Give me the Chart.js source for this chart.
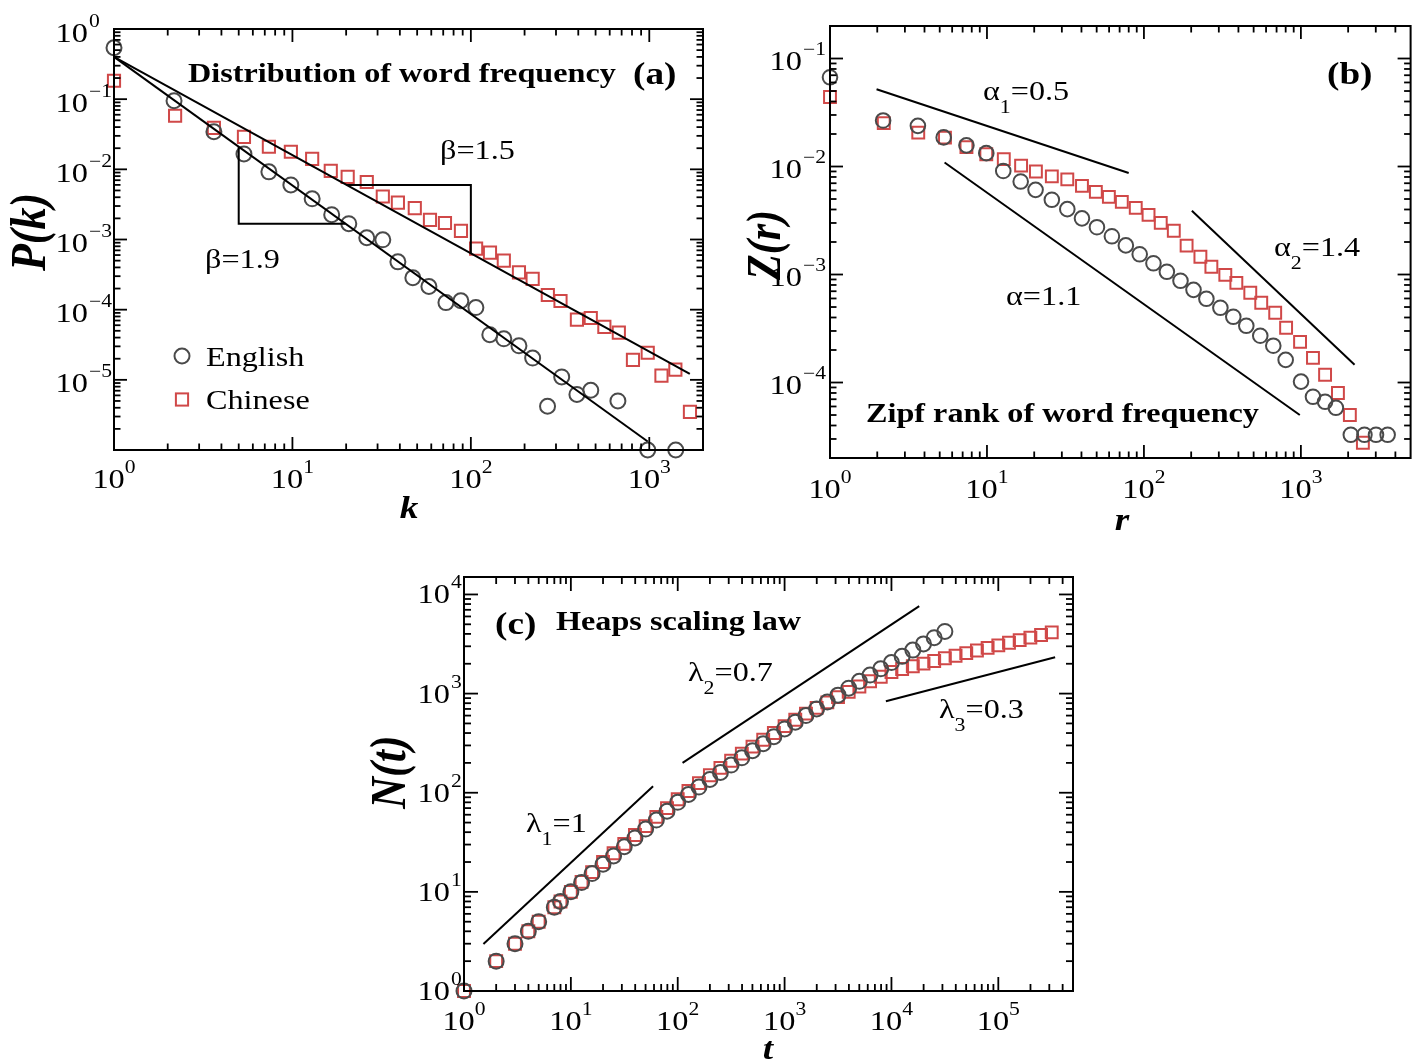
<!DOCTYPE html>
<html><head><meta charset="utf-8">
<script src="https://cdn.jsdelivr.net/npm/chart.js@4.4.1/dist/chart.umd.min.js"></script>
<style>
html,body{margin:0;padding:0;background:#fff;width:1421px;height:1061px;overflow:hidden;}
canvas{position:absolute;left:0;top:0;}
</style></head><body>
<canvas id="ca" width="1421" height="1061"></canvas>
<canvas id="cb" width="1421" height="1061"></canvas>
<canvas id="cc" width="1421" height="1061"></canvas>
<script>
// ---------- Panel (a): distribution of word frequency ----------
const aEnglishK = [1, 2.17, 3.63, 5.35, 7.38, 9.8, 12.9, 16.6, 20.7, 26.1, 32.1, 39, 47.3, 58.2, 72.5, 87.9, 106.7, 127.7, 153, 186, 222, 269, 323, 393, 470, 667, 980, 1407];
const aEnglishP = [0.54, 0.095, 0.0343, 0.0166, 0.0092, 0.006, 0.0038, 0.00226, 0.00168, 0.00106, 0.00099, 0.00048, 0.000285, 0.000214, 0.000126, 0.000134, 0.000107, 4.4e-5, 3.84e-5, 3.05e-5, 2.04e-5, 4.2e-6, 1.1e-5, 6.2e-6, 7.1e-6, 5.0e-6, 1.0e-6, 1.0e-6];
const aChineseK = [1, 2.2, 3.63, 5.35, 7.38, 9.8, 12.9, 16.4, 20.4, 26.1, 32.1, 39, 48.5, 59, 71.6, 88, 107, 128, 153, 186, 222, 270, 318, 393, 470, 560, 675, 810, 980, 1170, 1400, 1690];
const aChineseP = [0.183, 0.058, 0.039, 0.029, 0.021, 0.0178, 0.0141, 0.0095, 0.0078, 0.0066, 0.0041, 0.00335, 0.0028, 0.0019, 0.00172, 0.00133, 0.00074, 0.00065, 0.0005, 0.00034, 0.000275, 0.000162, 0.000133, 7.2e-5, 7.6e-5, 5.7e-5, 4.7e-5, 1.93e-5, 2.43e-5, 1.15e-5, 1.4e-5, 3.5e-6];
const aFit15K = [1, 1687];
const aFit15P = [0.40, 1.22e-5];
const aFit19K = [1, 980];
const aFit19P = [0.40, 1.32e-6];
const aTri15K = [20.1, 100, 100];
const aTri15P = [0.006, 0.006, 6.37e-4];
const aTri19K = [5, 5, 19.8];
const aTri19P = [0.021, 0.00168, 0.00168];
const aXTickExp = [0, 1, 2, 3];
const aYTickExp = [0, -1, -2, -3, -4, -5];

// ---------- Panel (b): Zipf rank ----------
const bEnglishR = [1, 2.18, 3.63, 5.3, 7.4, 9.9, 12.7, 16.4, 20.4, 25.9, 32.5, 40.3, 50.2, 62.5, 76.7, 94, 115, 140, 171, 207, 250, 307, 371, 449, 551, 667, 800, 1002, 1194, 1426, 1671, 2080, 2540, 3010, 3570];
const bEnglishZ = [0.067, 0.0267, 0.0238, 0.0186, 0.0157, 0.0133, 0.0091, 0.00726, 0.00608, 0.00492, 0.00403, 0.00331, 0.00274, 0.00226, 0.00186, 0.00154, 0.00127, 0.00106, 8.75e-4, 7.21e-4, 5.96e-4, 4.92e-4, 4.06e-4, 3.35e-4, 2.71e-4, 2.19e-4, 1.62e-4, 1.02e-4, 7.38e-5, 6.63e-5, 5.83e-5, 3.28e-5, 3.28e-5, 3.28e-5, 3.28e-5];
const bChineseR = [1, 2.2, 3.65, 5.4, 7.4, 9.9, 12.8, 16.5, 20.5, 25.9, 32.5, 40.3, 49.4, 59.8, 72.3, 88.7, 107, 128, 155, 187, 229, 269, 330, 388, 476, 559, 686, 805, 988, 1194, 1426, 1722, 2051, 2483];
const bChineseZ = [0.044, 0.0252, 0.0206, 0.0185, 0.0151, 0.013, 0.0117, 0.0102, 0.009, 0.0081, 0.0076, 0.00662, 0.00583, 0.00524, 0.00471, 0.00414, 0.00357, 0.00301, 0.00254, 0.00185, 0.00146, 0.00118, 9.93e-4, 8.37e-4, 6.77e-4, 5.47e-4, 4.42e-4, 3.21e-4, 2.38e-4, 1.69e-4, 1.18e-4, 8.0e-5, 5.0e-5, 2.77e-5];
const bAlpha1R = [1.98, 80];
const bAlpha1Z = [0.052, 0.0087];
const bAlphaR = [5.37, 984];
const bAlphaZ = [0.0109, 5.0e-5];
const bAlpha2R = [202, 2198];
const bAlpha2Z = [0.0039, 1.46e-4];
const bXTickExp = [0, 1, 2, 3];
const bYTickExp = [-1, -2, -3, -4];

// ---------- Panel (c): Heaps law ----------
const cEnglishT = [1, 2, 3, 4, 5, 7, 8, 10, 12.6, 15.8, 20, 25.1, 31.6, 39.8, 50.1, 63.1, 79.4, 100, 126, 158, 200, 251, 316, 398, 501, 631, 794, 1000, 1259, 1585, 1995, 2512, 3162, 3981, 5012, 6310, 7943, 10000, 12589, 15849, 19953, 25119, 31623];
const cEnglishN = [1, 2, 3, 4, 5, 7, 8, 10, 12.4, 15.3, 19, 23, 28.5, 35, 43, 53, 65, 80, 96, 114, 136, 160, 190, 225, 265, 312, 368, 440, 515, 600, 700, 822, 965, 1133, 1330, 1537, 1777, 2054, 2374, 2745, 3173, 3668, 4240];
const cChineseT = [1, 2, 3, 4, 5, 7, 8, 10, 12.6, 15.8, 20, 25.1, 31.6, 39.8, 50.1, 63.1, 79.4, 100, 126, 158, 200, 251, 316, 398, 501, 631, 794, 1000, 1259, 1585, 1995, 2512, 3162, 3981, 5012, 6310, 7943, 10000, 12589, 15849, 19953, 25119, 31623, 39811, 50119, 63096, 79433, 100000, 125893, 158489, 199526, 251189, 316228];
const cChineseN = [1, 2, 3, 4, 5, 7, 8, 10, 12.6, 15.8, 20, 24.5, 30.5, 37.5, 46, 57, 70, 86, 104, 125, 150, 178, 210, 248, 292, 342, 400, 470, 545, 628, 718, 815, 920, 1040, 1180, 1330, 1480, 1650, 1770, 1885, 2005, 2135, 2270, 2411, 2560, 2719, 2888, 3067, 3257, 3459, 3674, 3902, 4144];
const cLam1T = [1.52, 58.8];
const cLam1N = [2.98, 116];
const cLam2T = [111, 18200];
const cLam2N = [200, 7620];
const cLam3T = [8870, 340000];
const cLam3N = [836, 2330];
const cXTickExp = [0, 1, 2, 3, 4, 5];
const cYTickExp = [0, 1, 2, 3, 4];

// ---------- helpers ----------
const SERIF = '"Liberation Serif","Times New Roman",Times,serif';
const SX = 1.2;
const EN_COLOR = '#4a4a4a';
const ZH_COLOR = '#d04848';
const pts = (xs, ys) => xs.map((x, i) => ({x: x, y: ys[i]}));

function setFont(ctx, size, style) { ctx.font = (style || 'normal') + ' ' + size + 'px ' + SERIF; }
function rich(ctx, segs, x, y, align, sx) {
  sx = sx || SX;
  let w = 0;
  for (const s of segs) { setFont(ctx, s.size, s.style); s.w = ctx.measureText(s.t).width * sx; w += s.w; }
  let cx = align === 'center' ? x - w / 2 : (align === 'right' ? x - w : x);
  for (const s of segs) {
    ctx.save();
    setFont(ctx, s.size, s.style);
    ctx.fillStyle = '#000'; ctx.textBaseline = 'alphabetic'; ctx.textAlign = 'left';
    ctx.translate(cx, y + (s.dy || 0)); ctx.scale(sx, 1);
    ctx.fillText(s.t, 0, 0);
    ctx.restore();
    cx += s.w;
  }
  return w;
}
function rotText(ctx, str, cx, cy, size, style) {
  ctx.save();
  setFont(ctx, size, style);
  ctx.fillStyle = '#000'; ctx.textAlign = 'center'; ctx.textBaseline = 'middle';
  ctx.translate(cx, cy); ctx.scale(1.15, 1); ctx.rotate(-Math.PI / 2);
  ctx.fillText(str, 0, 0);
  ctx.restore();
}
const expStr = e => (e < 0 ? '\u2212' + (-e) : String(e));

function drawFrame(chart, cfg) {
  const ctx = chart.ctx, a = chart.chartArea, xs = chart.scales.x, ys = chart.scales.y;
  ctx.save();
  ctx.strokeStyle = '#000'; ctx.lineWidth = 2;
  ctx.strokeRect(a.left, a.top, a.right - a.left, a.bottom - a.top);
  ctx.lineWidth = 1.8;
  const seg = (x1, y1, x2, y2) => { ctx.beginPath(); ctx.moveTo(x1, y1); ctx.lineTo(x2, y2); ctx.stroke(); };
  const ticks = (scale, horiz) => {
    const min = scale.min, max = scale.max;
    for (let e = Math.floor(Math.log10(min)) - 1; e <= Math.ceil(Math.log10(max)); e++) {
      for (let m = 1; m <= 9; m++) {
        const v = m * Math.pow(10, e);
        if (v < min * 1.0001 || v > max * 0.9999) continue;
        const p = scale.getPixelForValue(v);
        const L = m === 1 ? cfg.major : cfg.minor;
        if (horiz) { seg(p, a.bottom, p, a.bottom - L); seg(p, a.top, p, a.top + L); }
        else { seg(a.left, p, a.left + L, p); seg(a.right, p, a.right - L, p); }
      }
    }
  };
  ticks(xs, true); ticks(ys, false);
  const F = 27, FE = 18;
  for (const e of cfg.xExp) {
    const p = xs.getPixelForValue(Math.pow(10, e));
    const base = a.bottom + cfg.xLabDy;
    setFont(ctx, F); const w1 = ctx.measureText('10').width * SX;
    setFont(ctx, FE); const w2 = ctx.measureText(expStr(e)).width * SX;
    const x0 = p - (w1 + w2) / 2;
    rich(ctx, [{t: '10', size: F}], x0, base, 'left');
    rich(ctx, [{t: expStr(e), size: FE}], x0 + w1, base - 15, 'left');
  }
  for (const e of cfg.yExp) {
    const p = ys.getPixelForValue(Math.pow(10, e));
    const base = p + cfg.yLabDy;
    const xr = a.left - cfg.yLabGap;
    rich(ctx, [{t: '10', size: F}], xr, base, 'right');
    rich(ctx, [{t: expStr(e), size: FE}], xr + 1, base - 15, 'left');
  }
  ctx.restore();
}

function mk(id, pad, xr, yr, datasets, extra) {
  const frameCfg = extra.frame;
  return new Chart(document.getElementById(id), {
    type: 'scatter',
    data: {datasets: datasets},
    options: {
      responsive: false, animation: false, devicePixelRatio: 1, events: [],
      layout: {padding: pad},
      plugins: {legend: {display: false}, tooltip: {enabled: false}},
      scales: {
        x: {type: 'logarithmic', min: xr[0], max: xr[1], display: false, bounds: 'data'},
        y: {type: 'logarithmic', min: yr[0], max: yr[1], display: false, bounds: 'data'}
      }
    },
    plugins: [{
      id: 'deco' + id,
      afterDatasetsDraw(chart) { drawFrame(chart, frameCfg); extra.draw(chart); }
    }]
  });
}
const circleDS = (label, xs, ys, r) => ({label: label, data: pts(xs, ys), showLine: false, clip: false,
  pointStyle: 'circle', pointRadius: r || 7.5, pointBorderWidth: 2, pointBorderColor: EN_COLOR, borderColor: EN_COLOR,
  pointBackgroundColor: 'rgba(0,0,0,0)', backgroundColor: 'rgba(0,0,0,0)'});
const squareDS = (label, xs, ys, r) => ({label: label, data: pts(xs, ys), showLine: false, clip: false,
  pointStyle: 'rect', pointRadius: r || 8.6, pointBorderWidth: 2, pointBorderColor: ZH_COLOR, borderColor: ZH_COLOR,
  pointBackgroundColor: 'rgba(0,0,0,0)', backgroundColor: 'rgba(0,0,0,0)'});
const lineDS = (label, xs, ys) => ({label: label, data: pts(xs, ys), showLine: true, clip: false,
  pointRadius: 0, borderColor: '#000', borderWidth: 2, backgroundColor: 'rgba(0,0,0,0)', fill: false, tension: 0});

const BODY = 26.5, BSX = 1.215, PANEL = 31;

// ---------- build panel (a) ----------
mk('ca', {left: 114, top: 29, right: 1421 - 703, bottom: 1061 - 450}, [1, 2000], [1e-6, 1], [
  lineDS('fit 1.5', aFit15K, aFit15P),
  lineDS('fit 1.9', aFit19K, aFit19P),
  lineDS('triangle 1.5', aTri15K, aTri15P),
  lineDS('triangle 1.9', aTri19K, aTri19P),
  circleDS('English', aEnglishK, aEnglishP),
  squareDS('Chinese', aChineseK, aChineseP)
], {
  frame: {major: 13, minor: 6.5, xExp: aXTickExp, yExp: aYTickExp, xLabDy: 38, yLabDy: 12.5, yLabGap: 26},
  draw(chart) {
    const ctx = chart.ctx;
    rich(ctx, [{t: 'Distribution of word frequency', size: BODY, style: 'bold'}], 188, 82, 'left', BSX);
    rich(ctx, [{t: '(a)', size: PANEL, style: 'bold'}], 633, 84, 'left', 1.2);
    rich(ctx, [{t: '\u03b2=1.5', size: BODY}], 440, 159, 'left', BSX);
    rich(ctx, [{t: '\u03b2=1.9', size: BODY}], 205, 268, 'left', BSX);
    ctx.save();
    ctx.lineWidth = 2; ctx.strokeStyle = EN_COLOR;
    ctx.beginPath(); ctx.arc(182, 356, 7.5, 0, 2 * Math.PI); ctx.stroke();
    ctx.strokeStyle = ZH_COLOR;
    ctx.strokeRect(182 - 6.1, 399.5 - 6.1, 12.2, 12.2);
    ctx.restore();
    rich(ctx, [{t: 'English', size: BODY}], 206, 366, 'left', BSX);
    rich(ctx, [{t: 'Chinese', size: BODY}], 206, 409, 'left', BSX);
    rich(ctx, [{t: 'k', size: 31, style: 'italic bold'}], 409, 518, 'center');
    rotText(ctx, 'P(k)', 32, 232, 44, 'italic bold');
  }
});

// ---------- build panel (b) ----------
mk('cb', {left: 830, top: 26, right: 1421 - 1413, bottom: 1061 - 458}, [1, 5000], [2e-5, 0.2], [
  lineDS('alpha1', bAlpha1R, bAlpha1Z),
  lineDS('alpha', bAlphaR, bAlphaZ),
  lineDS('alpha2', bAlpha2R, bAlpha2Z),
  circleDS('English', bEnglishR, bEnglishZ, 7.3),
  squareDS('Chinese', bChineseR, bChineseZ, 8.4)
], {
  frame: {major: 13, minor: 6.5, xExp: bXTickExp, yExp: bYTickExp, xLabDy: 40, yLabDy: 11, yLabGap: 28},
  draw(chart) {
    const ctx = chart.ctx;
    rich(ctx, [{t: '(b)', size: PANEL, style: 'bold'}], 1327, 84, 'left', 1.2);
    rich(ctx, [{t: '\u03b1', size: BODY}, {t: '1', size: 18, dy: 13}, {t: '=0.5', size: BODY}], 983, 100, 'left', BSX);
    rich(ctx, [{t: '\u03b1', size: BODY}, {t: '2', size: 18, dy: 13}, {t: '=1.4', size: BODY}], 1274, 256, 'left', BSX);
    rich(ctx, [{t: '\u03b1=1.1', size: BODY}], 1006, 305, 'left', BSX);
    rich(ctx, [{t: 'Zipf rank of word frequency', size: BODY, style: 'bold'}], 866, 422, 'left', BSX);
    rich(ctx, [{t: 'r', size: 31, style: 'italic bold'}], 1122, 530, 'center');
    rotText(ctx, 'Z(r)', 768, 245, 42, 'italic bold');
  }
});

// ---------- build panel (c) ----------
mk('cc', {left: 464, top: 577, right: 1421 - 1073, bottom: 1061 - 991}, [1, 5e5], [1, 15000], [
  lineDS('lambda1', cLam1T, cLam1N),
  lineDS('lambda2', cLam2T, cLam2N),
  lineDS('lambda3', cLam3T, cLam3N),
  circleDS('English', cEnglishT, cEnglishN, 7.5),
  squareDS('Chinese', cChineseT, cChineseN, 8.4)
], {
  frame: {major: 14, minor: 7, xExp: cXTickExp, yExp: cYTickExp, xLabDy: 39, yLabDy: 9, yLabGap: 14},
  draw(chart) {
    const ctx = chart.ctx;
    rich(ctx, [{t: '(c)', size: PANEL, style: 'bold'}], 495, 634, 'left', 1.2);
    rich(ctx, [{t: 'Heaps scaling law', size: BODY, style: 'bold'}], 556, 630, 'left', BSX);
    rich(ctx, [{t: '\u03bb', size: BODY}, {t: '2', size: 18, dy: 13}, {t: '=0.7', size: BODY}], 688, 681, 'left', BSX);
    rich(ctx, [{t: '\u03bb', size: BODY}, {t: '3', size: 18, dy: 13}, {t: '=0.3', size: BODY}], 939, 718, 'left', BSX);
    rich(ctx, [{t: '\u03bb', size: BODY}, {t: '1', size: 18, dy: 13}, {t: '=1', size: BODY}], 526, 832, 'left', BSX);
    rich(ctx, [{t: 't', size: 31, style: 'italic bold'}], 768, 1059, 'center');
    rotText(ctx, 'N(t)', 392, 772, 44, 'italic bold');
  }
});
</script>
</body></html>
